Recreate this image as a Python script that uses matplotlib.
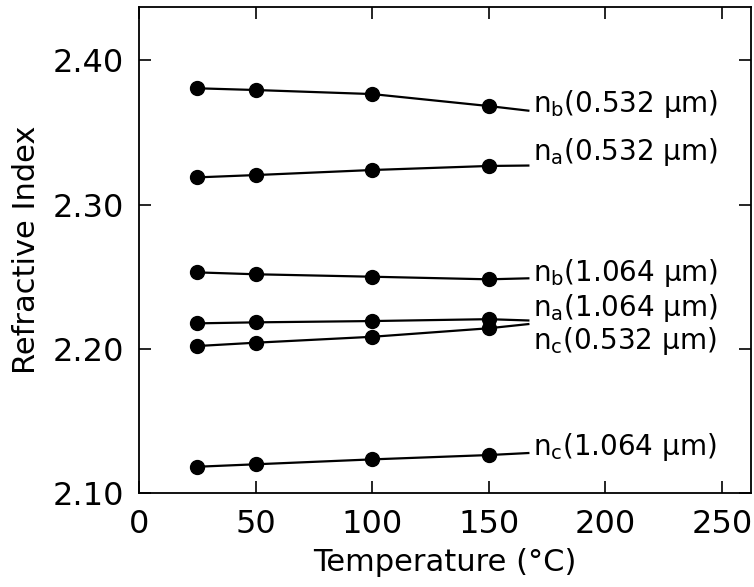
import matplotlib
matplotlib.use("Agg")
import matplotlib.pyplot as plt

# temperatures of the measured points (deg C)
temps = [25, 50, 100, 150]
# x where the leader line to each label ends
end_temp = 167

# refractive indices
nb_532 = [2.3805, 2.3793, 2.3765, 2.3682]
na_532 = [2.3188, 2.3204, 2.3239, 2.3267]
nb_1064 = [2.2530, 2.2517, 2.2500, 2.2482]
na_1064 = [2.2177, 2.2184, 2.2193, 2.2206]
nc_532 = [2.2020, 2.2043, 2.2084, 2.2143]
nc_1064 = [2.1184, 2.1201, 2.1235, 2.1265]

# value at the end of the leader line
end_vals = [2.3650, 2.3270, 2.2489, 2.2197, 2.2172, 2.1279]

names = [r"$\mathrm{n_b}$(0.532 μm)", r"$\mathrm{n_a}$(0.532 μm)",
         r"$\mathrm{n_b}$(1.064 μm)", r"$\mathrm{n_a}$(1.064 μm)",
         r"$\mathrm{n_c}$(0.532 μm)", r"$\mathrm{n_c}$(1.064 μm)"]
series = [nb_532, na_532, nb_1064, na_1064, nc_532, nc_1064]

# label vertical shift in points (layout only)
label_dy = [5, 10, 4, 9, -12, 4]

plt.rcParams['mathtext.fontset'] = 'dejavusans'
fig = plt.figure(figsize=(7.54, 5.87), dpi=100)
ax = fig.add_axes([0.1844, 0.1596, 0.8116, 0.828])

for vals, end, name, dy in zip(series, end_vals, names, label_dy):
    ax.plot(temps + [end_temp], vals + [end], color='black', lw=1.6)
    ax.plot(temps, vals, 'o', color='black', ms=10)
    ax.annotate(name, xy=(end_temp, end), xytext=(3, dy), textcoords='offset points',
                ha='left', va='center', fontsize=20)

ax.set_xlim(0, 262.5)
ax.set_ylim(2.10, 2.4366)
ax.set_xticks([0, 50, 100, 150, 200, 250])
ax.set_yticks([2.10, 2.20, 2.30, 2.40])
ax.set_yticklabels(['2.10', '2.20', '2.30', '2.40'])
ax.tick_params(direction='in', length=8.5, width=1.2, top=True, right=True,
               labelsize=23, pad=11)
for s in ax.spines.values():
    s.set_linewidth(1.3)

ax.set_xlabel('Temperature (°C)', fontsize=22, labelpad=6)
ax.set_ylabel('Refractive Index', fontsize=22, labelpad=8)

fig.savefig('out.png', dpi=100)
